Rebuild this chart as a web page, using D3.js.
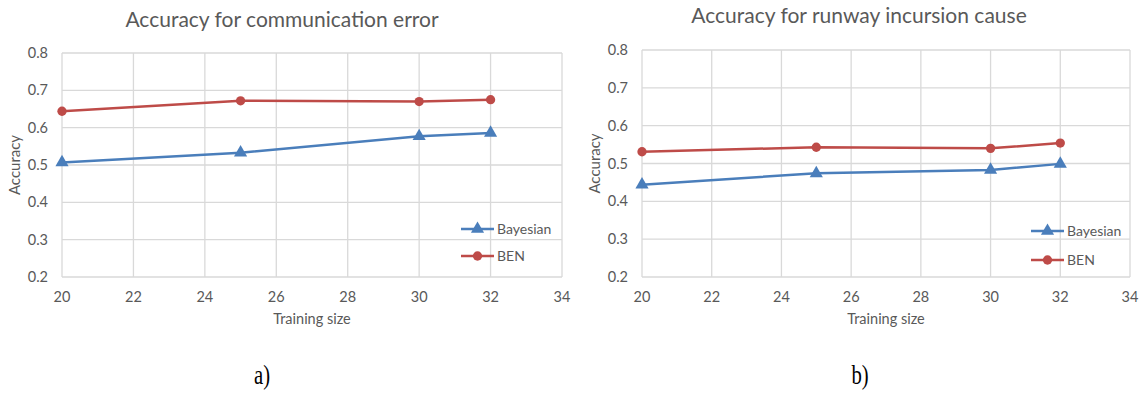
<!DOCTYPE html>
<html>
<head>
<meta charset="utf-8">
<script src="https://cdn.jsdelivr.net/npm/d3@7"></script>
<style>
  body { margin: 0; background: #fff; }
  svg text { font-family: Lato, "Open Sans", sans-serif; fill: #595959; }
  .cap { font-family: "Liberation Serif", "Times New Roman", serif; fill: #000; }
</style>
</head>
<body>
<svg width="1144" height="393"></svg>
<script>
/* global d3 */
var trainSizes = [20, 25, 30, 32];
var xTicks = [20, 22, 24, 26, 28, 30, 32, 34];
var yTicks = [0.2, 0.3, 0.4, 0.5, 0.6, 0.7, 0.8];

var commBayesian = [0.507, 0.533, 0.577, 0.586];
var commBEN = [0.644, 0.672, 0.670, 0.675];
var runwayBayesian = [0.444, 0.474, 0.483, 0.499];
var runwayBEN = [0.531, 0.543, 0.540, 0.554];

var seriesNames = ["Bayesian", "BEN"];
var seriesColors = ["#4a7ebb", "#be4b48"];

var svg = d3.select("svg");

function dibujar_grafico(cfg) {
  var x = d3.scaleLinear().domain([20, 34]).range([cfg.left, cfg.right]);
  var y = d3.scaleLinear().domain([0.2, 0.8]).range([cfg.bottom, cfg.top]);
  var g = svg.append("g");

  // grid
  g.selectAll(".vgrid").data(xTicks).enter().append("line")
    .attr("x1", function(d) { return x(d); }).attr("x2", function(d) { return x(d); })
    .attr("y1", y(0.8)).attr("y2", y(0.2))
    .attr("stroke", "#d9d9d9").attr("stroke-width", 1.3);
  g.selectAll(".hgrid").data(yTicks).enter().append("line")
    .attr("x1", x(20)).attr("x2", x(34))
    .attr("y1", function(d) { return y(d); }).attr("y2", function(d) { return y(d); })
    .attr("stroke", "#d9d9d9").attr("stroke-width", 1.3);

  // tick labels
  g.selectAll(".xt").data(xTicks).enter().append("text")
    .attr("x", function(d) { return x(d); })
    .attr("y", cfg.bottom + 25)
    .attr("text-anchor", "middle")
    .style("font-size", "14.5px")
    .text(function(d) { return d; });
  g.selectAll(".yt").data(yTicks).enter().append("text")
    .attr("x", cfg.left - 14)
    .attr("y", function(d) { return y(d); })
    .attr("dy", "0.35em")
    .attr("text-anchor", "end")
    .style("font-size", "14.5px")
    .text(function(d) { return d3.format(".1f")(d); });

  // titles
  g.append("text")
    .attr("x", cfg.titleX).attr("y", cfg.titleY)
    .attr("text-anchor", "middle")
    .style("font-size", "21px")
    .text(cfg.title);
  g.append("text")
    .attr("x", (cfg.left + cfg.right) / 2).attr("y", cfg.bottom + 47)
    .attr("text-anchor", "middle")
    .style("font-size", "14.5px")
    .text("Training size");
  g.append("text")
    .attr("transform", "translate(" + (cfg.left - 42) + "," + ((cfg.top + cfg.bottom) / 2) + ") rotate(-90)")
    .attr("text-anchor", "middle")
    .style("font-size", "15px")
    .text("Accuracy");

  var line = d3.line()
    .x(function(d, i) { return x(trainSizes[i]); })
    .y(function(d) { return y(d); });

  var tri = d3.symbol().type(d3.symbolTriangle).size(75);
  var cir = d3.symbol().type(d3.symbolCircle).size(68);

  cfg.series.forEach(function(vals, k) {
    var color = seriesColors[k];
    g.append("path")
      .attr("d", line(vals))
      .attr("fill", "none")
      .attr("stroke", color)
      .attr("stroke-width", 2.5);
    g.selectAll(".pt" + k).data(vals).enter().append("path")
      .attr("transform", function(d, i) { return "translate(" + x(trainSizes[i]) + "," + y(d) + ")"; })
      .attr("d", k === 0 ? tri : cir)
      .attr("fill", color);

    // legend
    var ly = cfg.legendY[k];
    g.append("line")
      .attr("x1", cfg.legendX).attr("x2", cfg.legendX + 33)
      .attr("y1", ly).attr("y2", ly)
      .attr("stroke", color).attr("stroke-width", 2.5);
    g.append("path")
      .attr("transform", "translate(" + (cfg.legendX + 16.5) + "," + ly + ")")
      .attr("d", k === 0 ? tri : cir)
      .attr("fill", color);
    g.append("text")
      .attr("x", cfg.legendX + 36).attr("y", ly)
      .attr("dy", "0.35em")
      .style("font-size", "14px")
      .text(seriesNames[k]);
  });

  svg.append("text")
    .attr("class", "cap")
    .attr("transform", "translate(" + cfg.capX + ",384) scale(0.9,1.2)")
    .attr("text-anchor", "middle")
    .style("font-size", "23px")
    .text(cfg.cap);
}

dibujar_grafico({
  left: 62, right: 562, top: 53, bottom: 277,
  title: "Accuracy for communication error", titleX: 282, titleY: 27,
  series: [commBayesian, commBEN],
  legendX: 461, legendY: [229, 256],
  cap: "a)", capX: 262
});

dibujar_grafico({
  left: 642, right: 1130, top: 50, bottom: 277,
  title: "Accuracy for runway incursion cause", titleX: 859, titleY: 23,
  series: [runwayBayesian, runwayBEN],
  legendX: 1031, legendY: [231, 260],
  cap: "b)", capX: 860
});
</script>
</body>
</html>
